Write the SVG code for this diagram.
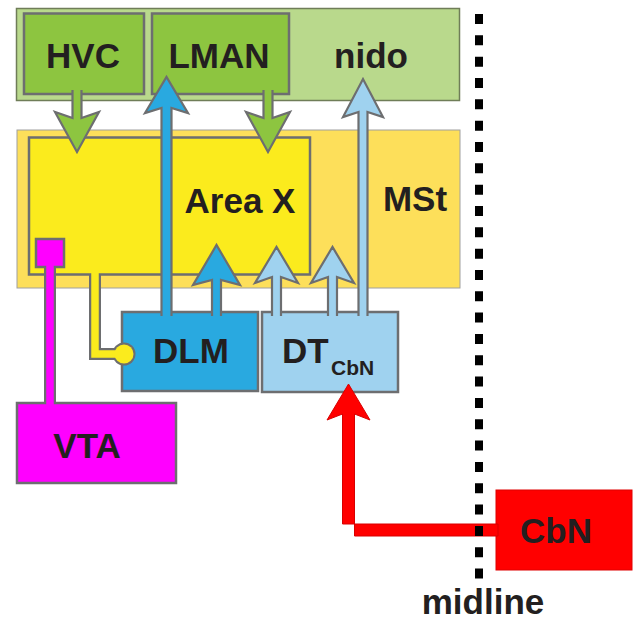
<svg xmlns="http://www.w3.org/2000/svg" width="634" height="622" viewBox="0 0 634 622">
<style>
  text { font-family: "Liberation Sans", Arial, sans-serif; font-weight: bold; fill: #231f20; }
  .lbl { font-size: 35px; text-anchor: middle; }
  .box { stroke: #6d6e70; stroke-width: 2.5; }
  .arr { stroke: #6d6e70; stroke-width: 2.2; stroke-linejoin: miter; }
</style>
<rect width="634" height="622" fill="#ffffff"/>

<g id="nido">
  <rect x="16.5" y="8.5" width="443" height="92" fill="#b9d98c" stroke="#6f7d58" stroke-width="1.5"/>
  <text class="lbl" x="371" y="68">nido</text>
</g>
<g id="MSt">
  <rect x="17" y="130" width="443" height="158" fill="#fddf5a" stroke="#a0a0a0" stroke-width="1"/>
  <text class="lbl" x="415" y="211">MSt</text>
</g>
<g id="AreaX">
  <rect x="29" y="137.5" width="281" height="137" fill="#fbeb1d" class="box"/>
  <text class="lbl" x="240" y="213" font-size="36">Area X</text>
</g>
<g id="HVC">
  <rect x="24" y="13.5" width="120" height="80.5" fill="#8dc540" class="box"/>
  <text class="lbl" x="83" y="68">HVC</text>
</g>
<g id="LMAN">
  <rect x="152" y="13.5" width="137" height="80.5" fill="#8dc540" class="box"/>
  <text class="lbl" x="219" y="68">LMAN</text>
</g>
<g id="DLM">
  <rect x="122" y="312" width="136" height="79" fill="#29a9e0" class="box"/>
  <text class="lbl" x="191" y="363">DLM</text>
</g>
<g id="DTCbN">
  <rect x="262" y="312" width="136" height="80" fill="#9fd2ef" class="box"/>
  <text x="282" y="363" font-size="35">DT<tspan x="331" y="375" font-size="21">CbN</tspan></text>
</g>
<g id="VTA">
  <rect x="36" y="239" width="28" height="28" fill="#ff00ff" class="box"/>
  <rect x="17" y="403" width="159" height="80" fill="#ff00ff" class="box"/>
  <text class="lbl" x="87" y="458">VTA</text>
</g>
<g id="CbN">
  <rect x="496" y="490" width="136" height="80" fill="#ff0000" stroke="#e00000" stroke-width="1"/>
  <text class="lbl" x="556" y="543">CbN</text>
</g>

<g id="connectors">
  <!-- VTA to Area X (magenta) -->
  <line x1="50" y1="267" x2="50" y2="404" stroke="#6d6e70" stroke-width="12"/>
  <line x1="50" y1="264" x2="50" y2="407" stroke="#ff00ff" stroke-width="7.5"/>
  <!-- Area X to DLM (yellow with circle end) -->
  <polyline points="95,275 95,354 124,354" fill="none" stroke="#6d6e70" stroke-width="12"/>
  <circle cx="124" cy="354" r="11.5" fill="#6d6e70"/>
  <polyline points="95,271 95,354 124,354" fill="none" stroke="#fbeb1d" stroke-width="7.5"/>
  <circle cx="124" cy="354" r="9.5" fill="#fbeb1d"/>
  <!-- HVC to Area X (green) -->
  <path class="arr" fill="#8dc540" d="M72.5 90 L72.5 118 L55 112 L77 152 L99 112 L81.5 118 L81.5 90"/>
  <!-- LMAN to Area X (green) -->
  <path class="arr" fill="#8dc540" d="M263.5 90 L263.5 118 L246 112 L268 152 L290 112 L272.5 118 L272.5 90"/>
  <!-- DLM to LMAN (blue) -->
  <path class="arr" fill="#29a9e0" d="M161.5 316 L161.5 108 L145 113 L166.5 77 L188 113 L171.5 108 L171.5 316"/>
  <!-- DLM to Area X (blue) -->
  <path class="arr" fill="#29a9e0" d="M212 316 L212 280 L193 285 L216.5 245 L240 285 L221 280 L221 316"/>
  <!-- DTCbN to Area X (light blue) -->
  <path class="arr" fill="#9fd2ef" d="M272 316 L272 277 L255 283 L276.5 247 L298 283 L281 277 L281 316"/>
  <!-- DTCbN to MSt (light blue) -->
  <path class="arr" fill="#9fd2ef" d="M328 316 L328 277 L311 283 L332.5 247 L354 283 L337 277 L337 316"/>
  <!-- DTCbN to nido (light blue) -->
  <path class="arr" fill="#9fd2ef" d="M358.5 316 L358.5 112 L343 117 L363 79 L383 117 L367.5 112 L367.5 316"/>
  <!-- CbN to DTCbN (red) -->
  <path fill="#ff0000" stroke="#d80000" stroke-width="1" d="M498 524 L342.5 524 L342.5 414 L327 420 L348.5 384 L370 420 L354.5 414 L354.5 536 L498 536 Z"/>
</g>

<g id="midline">
  <line x1="479" y1="14" x2="479" y2="580" stroke="#000000" stroke-width="8" stroke-dasharray="10 11.33"/>
  <text class="lbl" x="483" y="614" font-size="34">midline</text>
</g>
</svg>
